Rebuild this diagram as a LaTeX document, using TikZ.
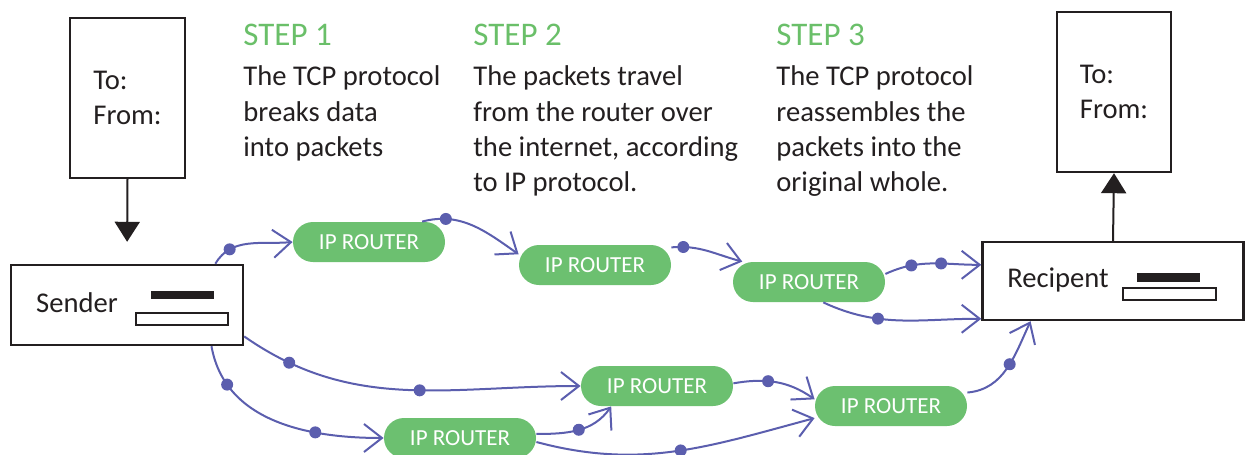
\documentclass[tikz,border=0pt]{standalone}
\usepackage{fontspec}
\setmainfont{Carlito}
\usetikzlibrary{arrows.meta,positioning}

\definecolor{stepgreen}{HTML}{6ABF69}
\definecolor{routergreen}{HTML}{6CC070}
\definecolor{linkblue}{HTML}{5B5EAE}
\definecolor{inkgray}{HTML}{231F20}

\begin{document}
\begin{tikzpicture}[x=0.5pt, y=0.5pt, node distance=9.5pt and 0pt,
  every node/.style={font=\fontsize{14.3}{17.6}\selectfont, text=inkgray},
  box/.style={draw=inkgray, line width=1.2pt, inner sep=0pt},
  router/.style={fill=routergreen, rounded corners=10pt, minimum width=76pt, minimum height=20pt,
    text=white, font=\fontsize{11.5}{13}\selectfont},
  link/.style={linkblue, line width=1pt, -{Straight Barb[length=9pt,width=14pt]}},
  dotm/.style={circle, fill=linkblue, inner sep=0pt, minimum size=6pt},
  steptitle/.style={text=stepgreen, inner sep=0pt, font=\fontsize{16.5}{19}\selectfont},
  steptext/.style={align=left, inner sep=0pt},
  blackbar/.style={fill=inkgray, inner sep=0pt},
  whitebar/.style={draw=inkgray, fill=white, line width=0.9pt, inner sep=0pt},
  post/.style={inkgray, line width=1pt, -{Triangle[length=10pt,width=12.5pt]}}]
  \useasboundingbox (0,0) rectangle (1248,-455);

  % address labels
  \node[box, minimum width=57.5pt, minimum height=80pt, align=left] (lbl1) at (127.5,-98) {To:\\From:};
  \node[box, minimum width=57pt, minimum height=80pt, align=left] (lbl2) at (1114,-92) {To:\\From:};

  % sender and recipient
  \node[box, minimum width=116pt, minimum height=40pt] (snd) at (127,-305) {};
  \node (sndtxt) at (77,-303) {Sender};
  \node[blackbar, minimum width=31.5pt, minimum height=4pt] (sbar1) at (182.5,-295) {};
  \node[whitebar, minimum width=46pt, minimum height=6pt] (sbar2) at (182,-319) {};

  \node[box, minimum width=130.5pt, minimum height=39pt] (rcp) at (1113,-281) {};
  \node (rcptxt) at (1058,-280) {Recipent};
  \node[blackbar, minimum width=31.5pt, minimum height=4.5pt] (rbar1) at (1168.5,-277.5) {};
  \node[whitebar, minimum width=46.5pt, minimum height=6pt] (rbar2) at (1169.5,-294) {};

  \draw[post] (lbl1.south) -- (snd.north) [shorten >=11pt];
  \draw[post] (rcp.north) -- (lbl2.south);

  % steps
  \node[steptitle, anchor=base west] (s1) at (243,-46) {STEP 1};
  \node[steptext, below=of s1.south west, anchor=north west] (t1) {The TCP protocol\\ breaks data\\ into packets};
  \node[steptitle, anchor=base west] (s2) at (473,-46) {STEP 2};
  \node[steptext, below=of s2.south west, anchor=north west] (t2) {The packets travel\\ from the router over\\ the internet, according\\ to IP protocol.};
  \node[steptitle, anchor=base west] (s3) at (776,-46) {STEP 3};
  \node[steptext, below=of s3.south west, anchor=north west] (t3) {The TCP protocol\\ reassembles the\\ packets into the\\ original whole.};

  % routers
  \node[router] (r1) at (369,-242) {IP ROUTER};
  \node[router] (r2) at (595,-265) {IP ROUTER};
  \node[router] (r3) at (809,-282) {IP ROUTER};
  \node[router] (r4) at (657,-386) {IP ROUTER};
  \node[router] (r5) at (891,-406) {IP ROUTER};
  \node[router] (r6) at (460,-438) {IP ROUTER};

  % packet routes
  \draw[link] (snd.25) to[out=60, in=185] node[dotm, pos=0.25] {} (r1.west);
  \draw[link] (r1.21) to[out=15, in=145] node[dotm, pos=0.22] {} (r2.172);
  \draw[link] (r2.13) to[out=5, in=165] node[dotm, pos=0.15] {} (r3.163);
  \draw[link] (r3.6) to[out=25, in=180] node[dotm, pos=0.27] {} node[dotm, pos=0.6] {} (rcp.173);
  \draw[link] (r3.-55) to[out=-25, in=180] node[dotm, pos=0.35] {} (rcp.196);
  \draw[link] (snd.-15) to[out=-35, in=180] node[dotm, pos=0.14] {} node[dotm, pos=0.55] {} (r4.west);
  \draw[link] (snd.-26) to[out=-80, in=180] node[dotm, pos=0.2] {} node[dotm, pos=0.7] {} (r6.west);
  \draw[link] (r6.3) to[out=0, in=235] node[dotm, pos=0.5] {} (r4.-156);
  \draw[link] (r6.-3) to[out=-15, in=195] node[dotm, pos=0.52] {} (r5.189);
  \draw[link] (r4.2) to[out=10, in=145] node[dotm, pos=0.4] {} (r5.175);
  \draw[link] (r5.10) to[out=5, in=245] node[dotm, pos=0.55] {} (rcp.-154);
\end{tikzpicture}
\end{document}
